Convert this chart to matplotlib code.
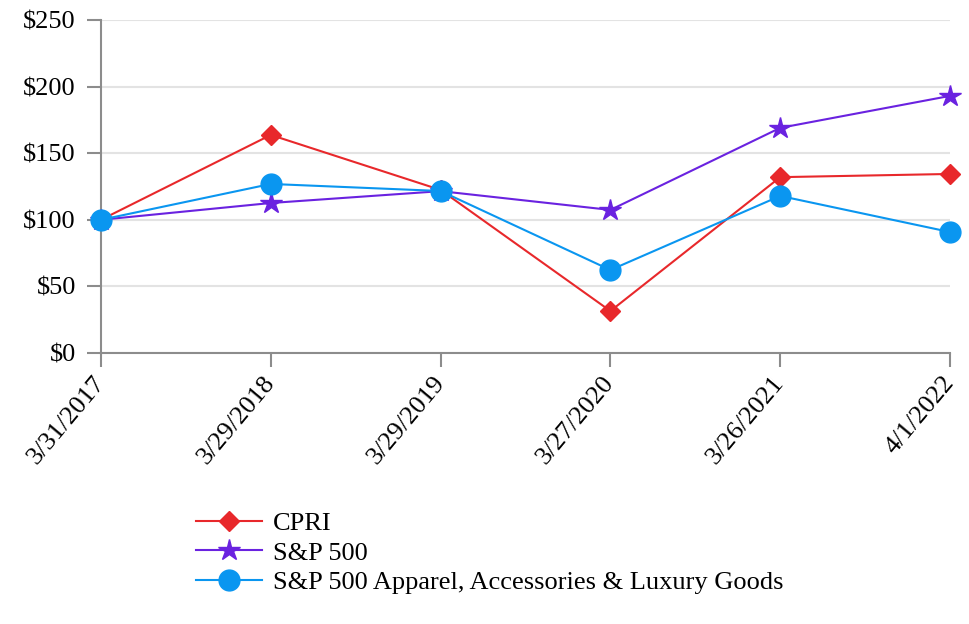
import matplotlib
matplotlib.use("Agg")
import matplotlib.pyplot as plt
from matplotlib.ticker import FuncFormatter

plt.rcParams['font.family'] = ['Liberation Serif', 'DejaVu Serif']

dates = ["3/31/2017", "3/29/2018", "3/29/2019", "3/27/2020", "3/26/2021", "4/1/2022"]
cpri = [100, 163.7, 122.4, 31.5, 132, 134.4]
sp500 = [100, 112.6, 121.5, 107.4, 169, 193]
apparel = [100, 126.9, 121.6, 62.3, 117.9, 90.8]

fig = plt.figure(figsize=(9.7, 6.24), dpi=100)
ax = fig.add_axes([0.1041, 0.4343, 0.8753, 0.5337])

x = list(range(len(dates)))
ax.plot(x, cpri, color='#e8282b', lw=1.5, marker='D', ms=10, label='CPRI', zorder=3)
ax.plot(x, sp500, color='#6a22e0', lw=1.5, marker='*', ms=16, label='S&P 500', zorder=3)
ax.plot(x, apparel, color='#0a96f0', lw=1.5, marker='o', ms=15,
        label='S&P 500 Apparel, Accessories & Luxury Goods', zorder=4)

ax.set_xlim(0, len(dates) - 1)
ax.set_ylim(0, 250)
ax.set_yticks(range(0, 251, 50))
ax.yaxis.set_major_formatter(FuncFormatter(lambda v, p: f"${int(v)}"))
ax.set_xticks(x)
ax.set_xticklabels(dates, rotation=50, ha='right', va='center', rotation_mode='anchor')
ax.grid(axis='y', color='#e3e3e3', lw=1.5)
ax.set_axisbelow(True)
for s in ['top', 'right']:
    ax.spines[s].set_visible(False)
for s in ['left', 'bottom']:
    ax.spines[s].set_color('#8c8c8c')
    ax.spines[s].set_linewidth(1.5)
ax.tick_params(colors='#8c8c8c', labelcolor='black', labelsize=19, length=10, width=1.5)
ax.tick_params(axis='x', pad=9)
ax.tick_params(axis='y', pad=8)
for c in ax.get_lines():
    c.set_clip_on(False)

ax.legend(loc='upper left', bbox_to_anchor=(0.1, -0.445), frameon=False, fontsize=19,
          handlelength=2.5, labelspacing=0.22, handletextpad=0.4, borderaxespad=0)

fig.savefig("out.png", dpi=100)
